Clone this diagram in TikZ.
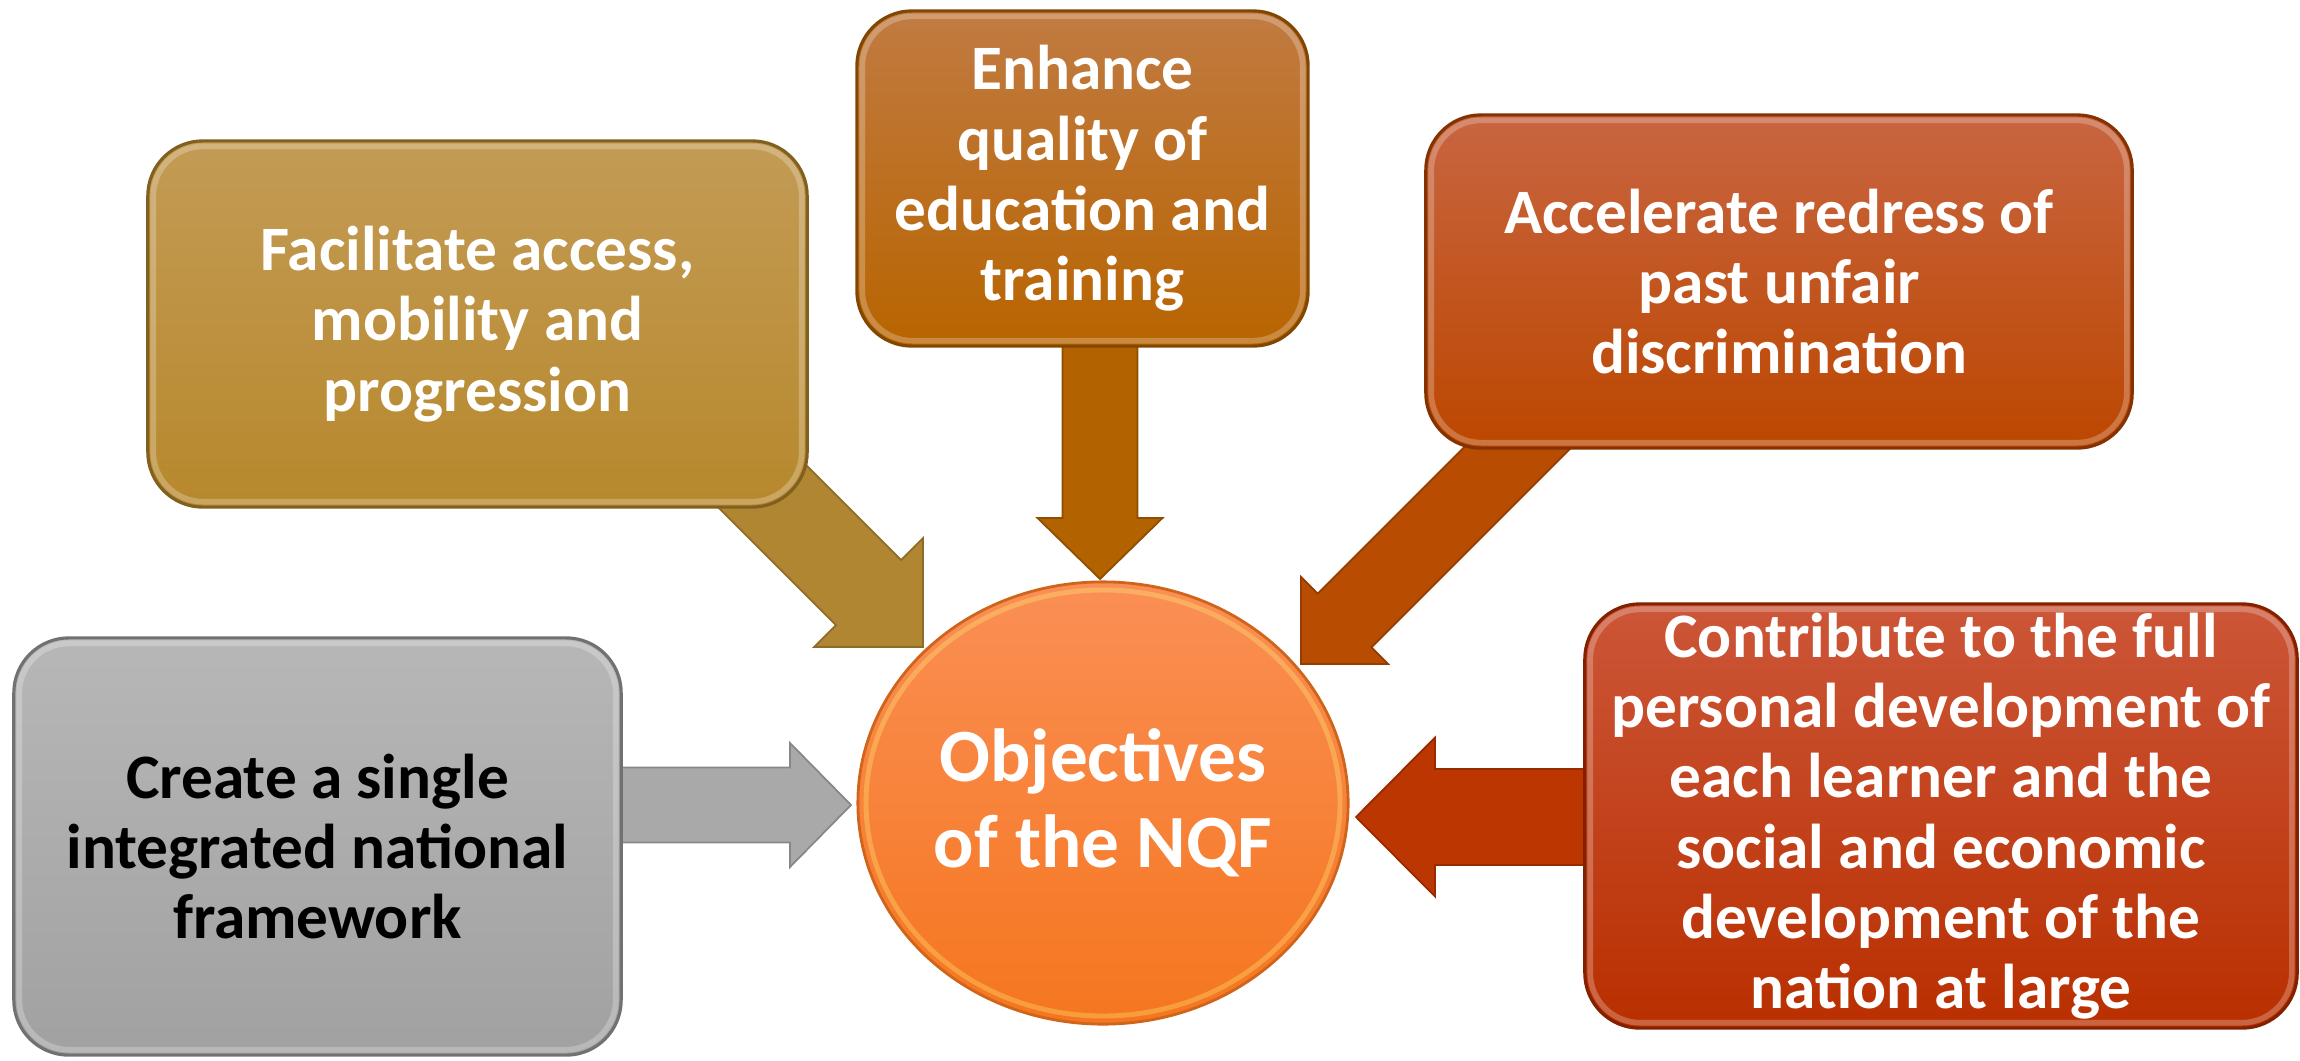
\documentclass[tikz,border=0pt]{standalone}
\usepackage{fontspec}
\setmainfont{Carlito}
\usetikzlibrary{calc,shapes.geometric}

\definecolor{goldTop}{HTML}{C39B55}
\definecolor{goldBot}{HTML}{B7882C}
\definecolor{goldArr}{HTML}{B08632}
\definecolor{brTop}{HTML}{C17B42}
\definecolor{brBot}{HTML}{B86400}
\definecolor{brArr}{HTML}{B36200}
\definecolor{roTop}{HTML}{C86541}
\definecolor{roBot}{HTML}{BC4700}
\definecolor{roArr}{HTML}{B84C00}
\definecolor{grTop}{HTML}{B7B7B7}
\definecolor{grBot}{HTML}{A1A1A1}
\definecolor{grArr}{HTML}{A9A9A9}
\definecolor{rdTop}{HTML}{CC5638}
\definecolor{rdBot}{HTML}{B92F00}
\definecolor{rdArr}{HTML}{BB3600}
\definecolor{ciTop}{HTML}{FA8F55}
\definecolor{ciBot}{HTML}{F5761F}

\tikzset{
  objbox/.style={rounded corners=0.55cm, line width=0.9pt, align=center,
    font=\bfseries\fontsize{18}{20}\selectfont, text=white, inner sep=0pt},
  glow/.style={rounded corners=0.5cm, line width=1.6pt, draw=white, draw opacity=0.25},
  blockarr/.style={fill=#1, draw=#1!80!black, line width=0.5pt, line join=miter},
}

\newcommand\nqfarrow[6]{%
  \coordinate (ba-h) at ($(#3)!#6!(#2)$);
  \path[#1] ($(#2)!#4!90:(#3)$) -- ($(ba-h)!#4!90:(#3)$) -- ($(ba-h)!#5!90:(#3)$)
    -- (#3) -- ($(ba-h)!#5!-90:(#3)$) -- ($(ba-h)!#4!-90:(#3)$)
    -- ($(#2)!#4!-90:(#3)$) -- cycle;
}

\begin{document}
\begin{tikzpicture}[x=0.01cm, y=-0.01cm]
\useasboundingbox (0,0) rectangle (2300,1060);

% arrow end points
\coordinate (a1s) at (673,397);  \coordinate (a1t) at (923,647);
\coordinate (a2s) at (1100,300); \coordinate (a2t) at (1100,579);
\coordinate (a3s) at (1551,414); \coordinate (a3t) at (1301,664);
\coordinate (a4s) at (560,805);  \coordinate (a4t) at (851,805);
\coordinate (a5s) at (1700,817); \coordinate (a5t) at (1356,817);

% block arrows
\nqfarrow{blockarr=goldArr}{a1s}{a1t}{0.46cm}{0.77cm}{0.77cm}
\nqfarrow{blockarr=brArr}{a2s}{a2t}{0.375cm}{0.625cm}{0.61cm}
\nqfarrow{blockarr=roArr}{a3s}{a3t}{0.38cm}{0.615cm}{0.615cm}
\nqfarrow{blockarr=grArr}{a4s}{a4t}{0.375cm}{0.62cm}{0.61cm}
\nqfarrow{blockarr=rdArr}{a5s}{a5t}{0.48cm}{0.795cm}{0.79cm}

% boxes
\node[objbox, top color=goldTop, bottom color=goldBot, draw=goldBot!70!black,
  minimum width=6.59cm, minimum height=3.66cm] (b1) at (477.5,324)
  {Facilitate access,\\ mobility and\\ progression};
\node[objbox, top color=brTop, bottom color=brBot, draw=brBot!70!black,
  minimum width=4.51cm, minimum height=3.35cm] (b2) at (1082.5,178.5)
  {Enhance\\ quality of\\ education and\\ training};
\node[objbox, top color=roTop, bottom color=roBot, draw=roBot!70!black,
  minimum width=7.06cm, minimum height=3.33cm] (b3) at (1779,281.5)
  {Accelerate redress of\\ past unfair\\ discrimination};
\node[objbox, top color=grTop, bottom color=grBot, draw=grBot!70!black, text=black,
  minimum width=6.07cm, minimum height=4.17cm] (b4) at (317.5,846.5)
  {Create a single\\ integrated national\\ framework};
\node[objbox, top color=rdTop, bottom color=rdBot, draw=rdBot!70!black,
  minimum width=7.12cm, minimum height=4.24cm] (b5) at (1941,816)
  {Contribute to the full\\ personal development of\\ each learner and the\\ social and economic\\ development of the\\ nation at large};

% bevel highlights
\foreach \b in {b1,b2,b3,b4,b5}{
  \draw[glow] ($(\b.north west)+(7,7)$) rectangle ($(\b.south east)+(-7,-7)$);
}

% centre ellipse
\node[ellipse, top color=ciTop, bottom color=ciBot, draw=ciBot!85!black, line width=0.8pt,
  minimum width=4.9cm, minimum height=4.42cm, inner sep=0pt, align=center, text=white,
  font=\bfseries\fontsize{21.4}{24.4}\selectfont] (c) at (1103,803)
  {Objectives\\ of the NQF};
\draw[draw=yellow!50!white, draw opacity=0.3, line width=1.4pt] (c.center) ellipse [x radius=237, y radius=213];
\end{tikzpicture}
\end{document}
